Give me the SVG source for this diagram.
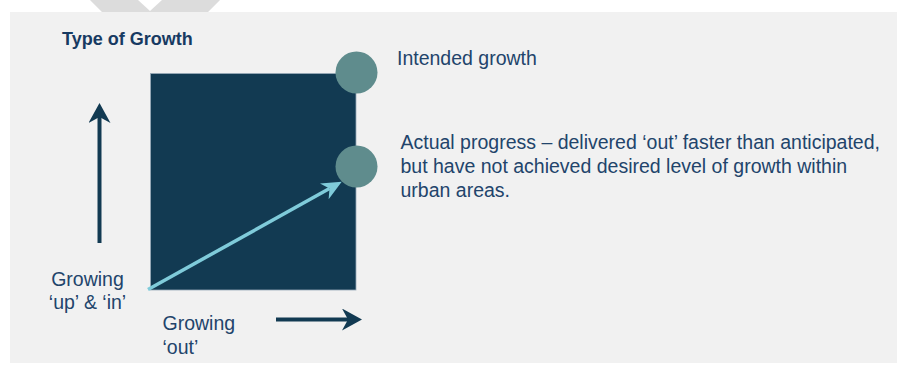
<svg xmlns="http://www.w3.org/2000/svg" width="903" height="365" viewBox="0 0 903 365">
  <style>
    .txt { font-family: "Liberation Sans", Arial, sans-serif; font-size: 19.5px; fill: #22446B; }
    .title { font-family: "Liberation Sans", Arial, sans-serif; font-size: 18px; font-weight: bold; fill: #173A62; }
    .dark { stroke: #123A52; stroke-width: 4; fill: none; }
    .light { stroke: #7FCBDA; stroke-width: 3.5; fill: none; }
    .dot { fill: #5F8C8D; }
  </style>
  <defs>
    <marker id="darkHead" markerUnits="userSpaceOnUse" viewBox="0 0 20 22" refX="6" refY="11" markerWidth="20" markerHeight="22" orient="auto">
      <path d="M0,0 L20,11 L0,22 L6,11 Z" fill="#123A52"/>
    </marker>
    <marker id="lightHead" markerUnits="userSpaceOnUse" viewBox="0 0 20 18" refX="6" refY="9" markerWidth="20" markerHeight="18" orient="auto">
      <path d="M0,0 L20,9 L0,18 L6,9 Z" fill="#7FCBDA"/>
    </marker>
  </defs>

  <rect x="0" y="0" width="903" height="365" fill="#ffffff"/>
  <polygon points="90,0 138,0 150,11 162,0 220,0 208,12 102,12" fill="#DCDCDC"/>
  <rect x="10" y="12" width="887" height="351" fill="#F1F1F1"/>

  <text class="title" x="62" y="45">Type of Growth</text>

  <g id="square">
    <rect x="150.5" y="73.5" width="205.5" height="216.5" fill="#123A52" stroke="#9AABB8" stroke-width="0.8"/>
  </g>

  <g id="connectors">
    <line class="dark" x1="99.5" y1="243" x2="99.5" y2="117" marker-end="url(#darkHead)"/>
    <line class="dark" x1="276" y1="319.5" x2="348" y2="319.5" marker-end="url(#darkHead)"/>
    <line class="light" x1="148" y1="289.5" x2="329.5" y2="188.5" marker-end="url(#lightHead)"/>
  </g>

  <g id="intended">
    <circle class="dot" cx="356.5" cy="72.5" r="21"/>
    <text class="txt" x="397" y="65">Intended growth</text>
  </g>

  <g id="actual">
    <circle class="dot" cx="356.5" cy="166.5" r="21"/>
    <text class="txt" x="400.5" y="148.5">Actual progress – delivered ‘out’ faster than anticipated,</text>
    <text class="txt" x="400.5" y="172.5">but have not achieved desired level of growth within</text>
    <text class="txt" x="400.5" y="196.5">urban areas.</text>
  </g>

  <g id="label-up">
    <text class="txt" x="87.5" y="285.5" text-anchor="middle">Growing</text>
    <text class="txt" x="87.5" y="308.5" text-anchor="middle">‘up’ &amp; ‘in’</text>
  </g>

  <g id="label-out">
    <text class="txt" x="162.5" y="330">Growing</text>
    <text class="txt" x="162.5" y="354">‘out’</text>
  </g>
</svg>
